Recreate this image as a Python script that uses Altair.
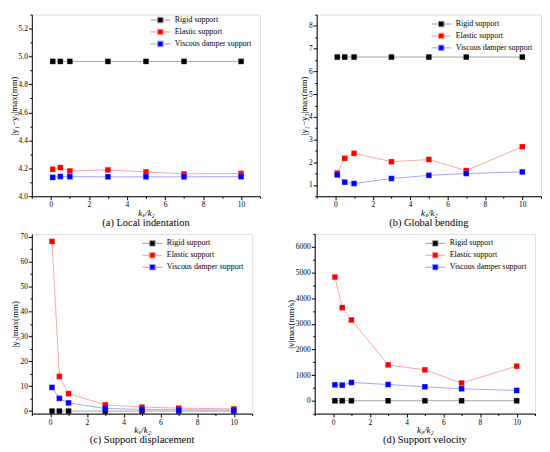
import altair as alt
import pandas as pd

ks_k2 = [0.1, 0.5, 1, 3, 5, 7, 10]
series_names = ["Rigid support", "Elastic support", "Viscous damper support"]
dark_colors = ["#000000", "#ff0000", "#0000ff"]
light_colors = ["#9a9a9a", "#ff9a9a", "#9a9aff"]

# (a) Local indentation
a_rigid = [4.965, 4.965, 4.965, 4.965, 4.965, 4.965, 4.965]
a_elastic = [4.193, 4.205, 4.181, 4.188, 4.174, 4.160, 4.163]
a_viscous = [4.135, 4.141, 4.140, 4.139, 4.139, 4.139, 4.140]

# (b) Global bending
b_rigid = [6.63, 6.63, 6.63, 6.63, 6.63, 6.63, 6.63]
b_elastic = [1.52, 2.17, 2.39, 2.02, 2.12, 1.63, 2.68]
b_viscous = [1.44, 1.12, 1.06, 1.28, 1.42, 1.50, 1.57]

# (c) Support displacement
c_rigid = [0.0, 0.0, 0.0, 0.0, 0.0, 0.0, 0.0]
c_elastic = [68.0, 13.9, 7.0, 2.5, 1.6, 1.2, 0.9]
c_viscous = [9.5, 5.1, 3.3, 1.05, 0.7, 0.5, 0.4]

# (d) Support velocity
d_rigid = [0, 0, 0, 0, 0, 0, 0]
d_elastic = [4820, 3630, 3150, 1400, 1205, 690, 1350]
d_viscous = [622, 609, 713, 635, 544, 467, 402]

x_ticks = [-1, 0, 1, 2, 3, 4, 5, 6, 7, 8, 9, 10, 11]
a_yticks = [4.0, 4.1, 4.2, 4.3, 4.4, 4.5, 4.6, 4.7, 4.8, 4.9, 5.0, 5.1, 5.2, 5.3]
b_yticks = [0.5, 1, 1.5, 2, 2.5, 3, 3.5, 4, 4.5, 5, 5.5, 6, 6.5, 7, 7.5, 8, 8.5]
c_yticks = [0, 5, 10, 15, 20, 25, 30, 35, 40, 45, 50, 55, 60, 65, 70]
d_yticks = [-500, 0, 500, 1000, 1500, 2000, 2500, 3000, 3500, 4000, 4500, 5000, 5500, 6000, 6500]

FONT = "Liberation Serif"


def make_axis(values, test, title, fmt=None, italic=False):
    kw = dict(
        values=values,
        title=title,
        labelExpr=f"({test}) ? datum.label : ''",
        tickSize={"condition": {"test": test, "value": 3.5}, "value": 2},
        grid=False,
        labelOverlap=False,
        labelFontSize=7.5,
        titleFontSize=9,
        labelFont=FONT,
        titleFont=FONT,
        titleFontWeight="normal",
        labelColor="black",
        titleColor="black",
        tickColor="black",
        domainColor="black",
        labelPadding=1,
        titlePadding=0,
    )
    if fmt:
        kw["format"] = fmt
    if italic:
        kw["titleFontStyle"] = "italic"
    return alt.Axis(**kw)


def panel(rigid, elastic, viscous, ytitle, ydomain, yvalues, ytest, yfmt, caption, w, h, ly):
    rows = []
    for name, vals in zip(series_names, [rigid, elastic, viscous]):
        for k, v in zip(ks_k2, vals):
            rows.append({"k": k, "value": v, "series": name})
    df = pd.DataFrame(rows)

    xtest = "datum.value % 2 == 0 && datum.value >= 0 && datum.value <= 10"
    x = alt.X("k:Q", scale=alt.Scale(domain=[-1, 11], nice=False, zero=False),
              axis=make_axis(x_ticks, xtest, "kₛ/k₂", italic=True))
    y = alt.Y("value:Q", scale=alt.Scale(domain=ydomain, nice=False, zero=False),
              axis=make_axis(yvalues, ytest, ytitle, fmt=yfmt))

    legend = alt.Legend(
        title=None,
        orient="none",
        legendX=w - 106,
        legendY=ly,
        labelFont=FONT,
        labelFontSize=8,
        labelColor="black",
        symbolType="M-2,0H-0.55M0.55,0H2M-0.55,-0.55H0.55V0.55H-0.55Z",
        symbolSize=100,
        symbolStrokeWidth=1,
        rowPadding=1,
        labelOffset=9,
        padding=0,
    )
    fill_scale = alt.Scale(domain=series_names, range=dark_colors)
    stroke_scale = alt.Scale(domain=series_names, range=light_colors)

    base = alt.Chart(df).encode(x=x, y=y)
    line = base.mark_line(strokeWidth=0.9).encode(
        stroke=alt.Stroke("series:N", scale=stroke_scale, legend=legend),
        detail="series:N",
    )
    pts = base.mark_point(shape="square", filled=True, size=30, opacity=1, strokeWidth=0.2).encode(
        fill=alt.Fill("series:N", scale=fill_scale, legend=legend),
        stroke=alt.Stroke("series:N", scale=stroke_scale, legend=legend),
    )
    return alt.layer(line, pts).properties(
        width=w, height=h,
        title=alt.TitleParams(caption, orient="bottom", font=FONT, fontSize=10.5,
                              fontWeight="normal", color="black", offset=1),
    )


pa = panel(a_rigid, a_elastic, a_viscous, "|y₁−y₂|max(mm)", [4.0, 5.3], a_yticks,
           "abs(round(datum.value*10)) % 2 == 0 && datum.value <= 5.25", ".1f",
           "(a) Local indentation", 230, 183, 0)
pb = panel(b_rigid, b_elastic, b_viscous, "|y₂−y₃|max(mm)", [0.5, 8.5], b_yticks,
           "round(datum.value*2) % 2 == 0", ".0f",
           "(b) Global bending", 226, 183, 4)
pc = panel(c_rigid, c_elastic, c_viscous, "|y₃|max(mm)", [-1, 71], c_yticks,
           "datum.value % 10 == 0", "d",
           "(c) Support displacement", 222, 181, 4)
pd_ = panel(d_rigid, d_elastic, d_viscous, "|v|max(mm/s)", [-500, 6500], d_yticks,
            "datum.value % 1000 == 0 && datum.value >= 0 && datum.value <= 6000", "d",
            "(d) Support velocity", 222, 181, 4)

ind = dict(fill="independent", stroke="independent")
top = alt.hconcat(pa, pb, spacing=38).resolve_scale(**ind).resolve_legend(**ind)
bottom = alt.hconcat(pc, pd_, spacing=33).resolve_scale(**ind).resolve_legend(**ind)

chart = alt.vconcat(top, bottom, spacing=0).resolve_scale(**ind).resolve_legend(**ind).configure_view(
    stroke="black", strokeWidth=1
).configure(background="white", padding=0)

chart.save("out.html", embed_options={"renderer": "svg", "actions": False})
